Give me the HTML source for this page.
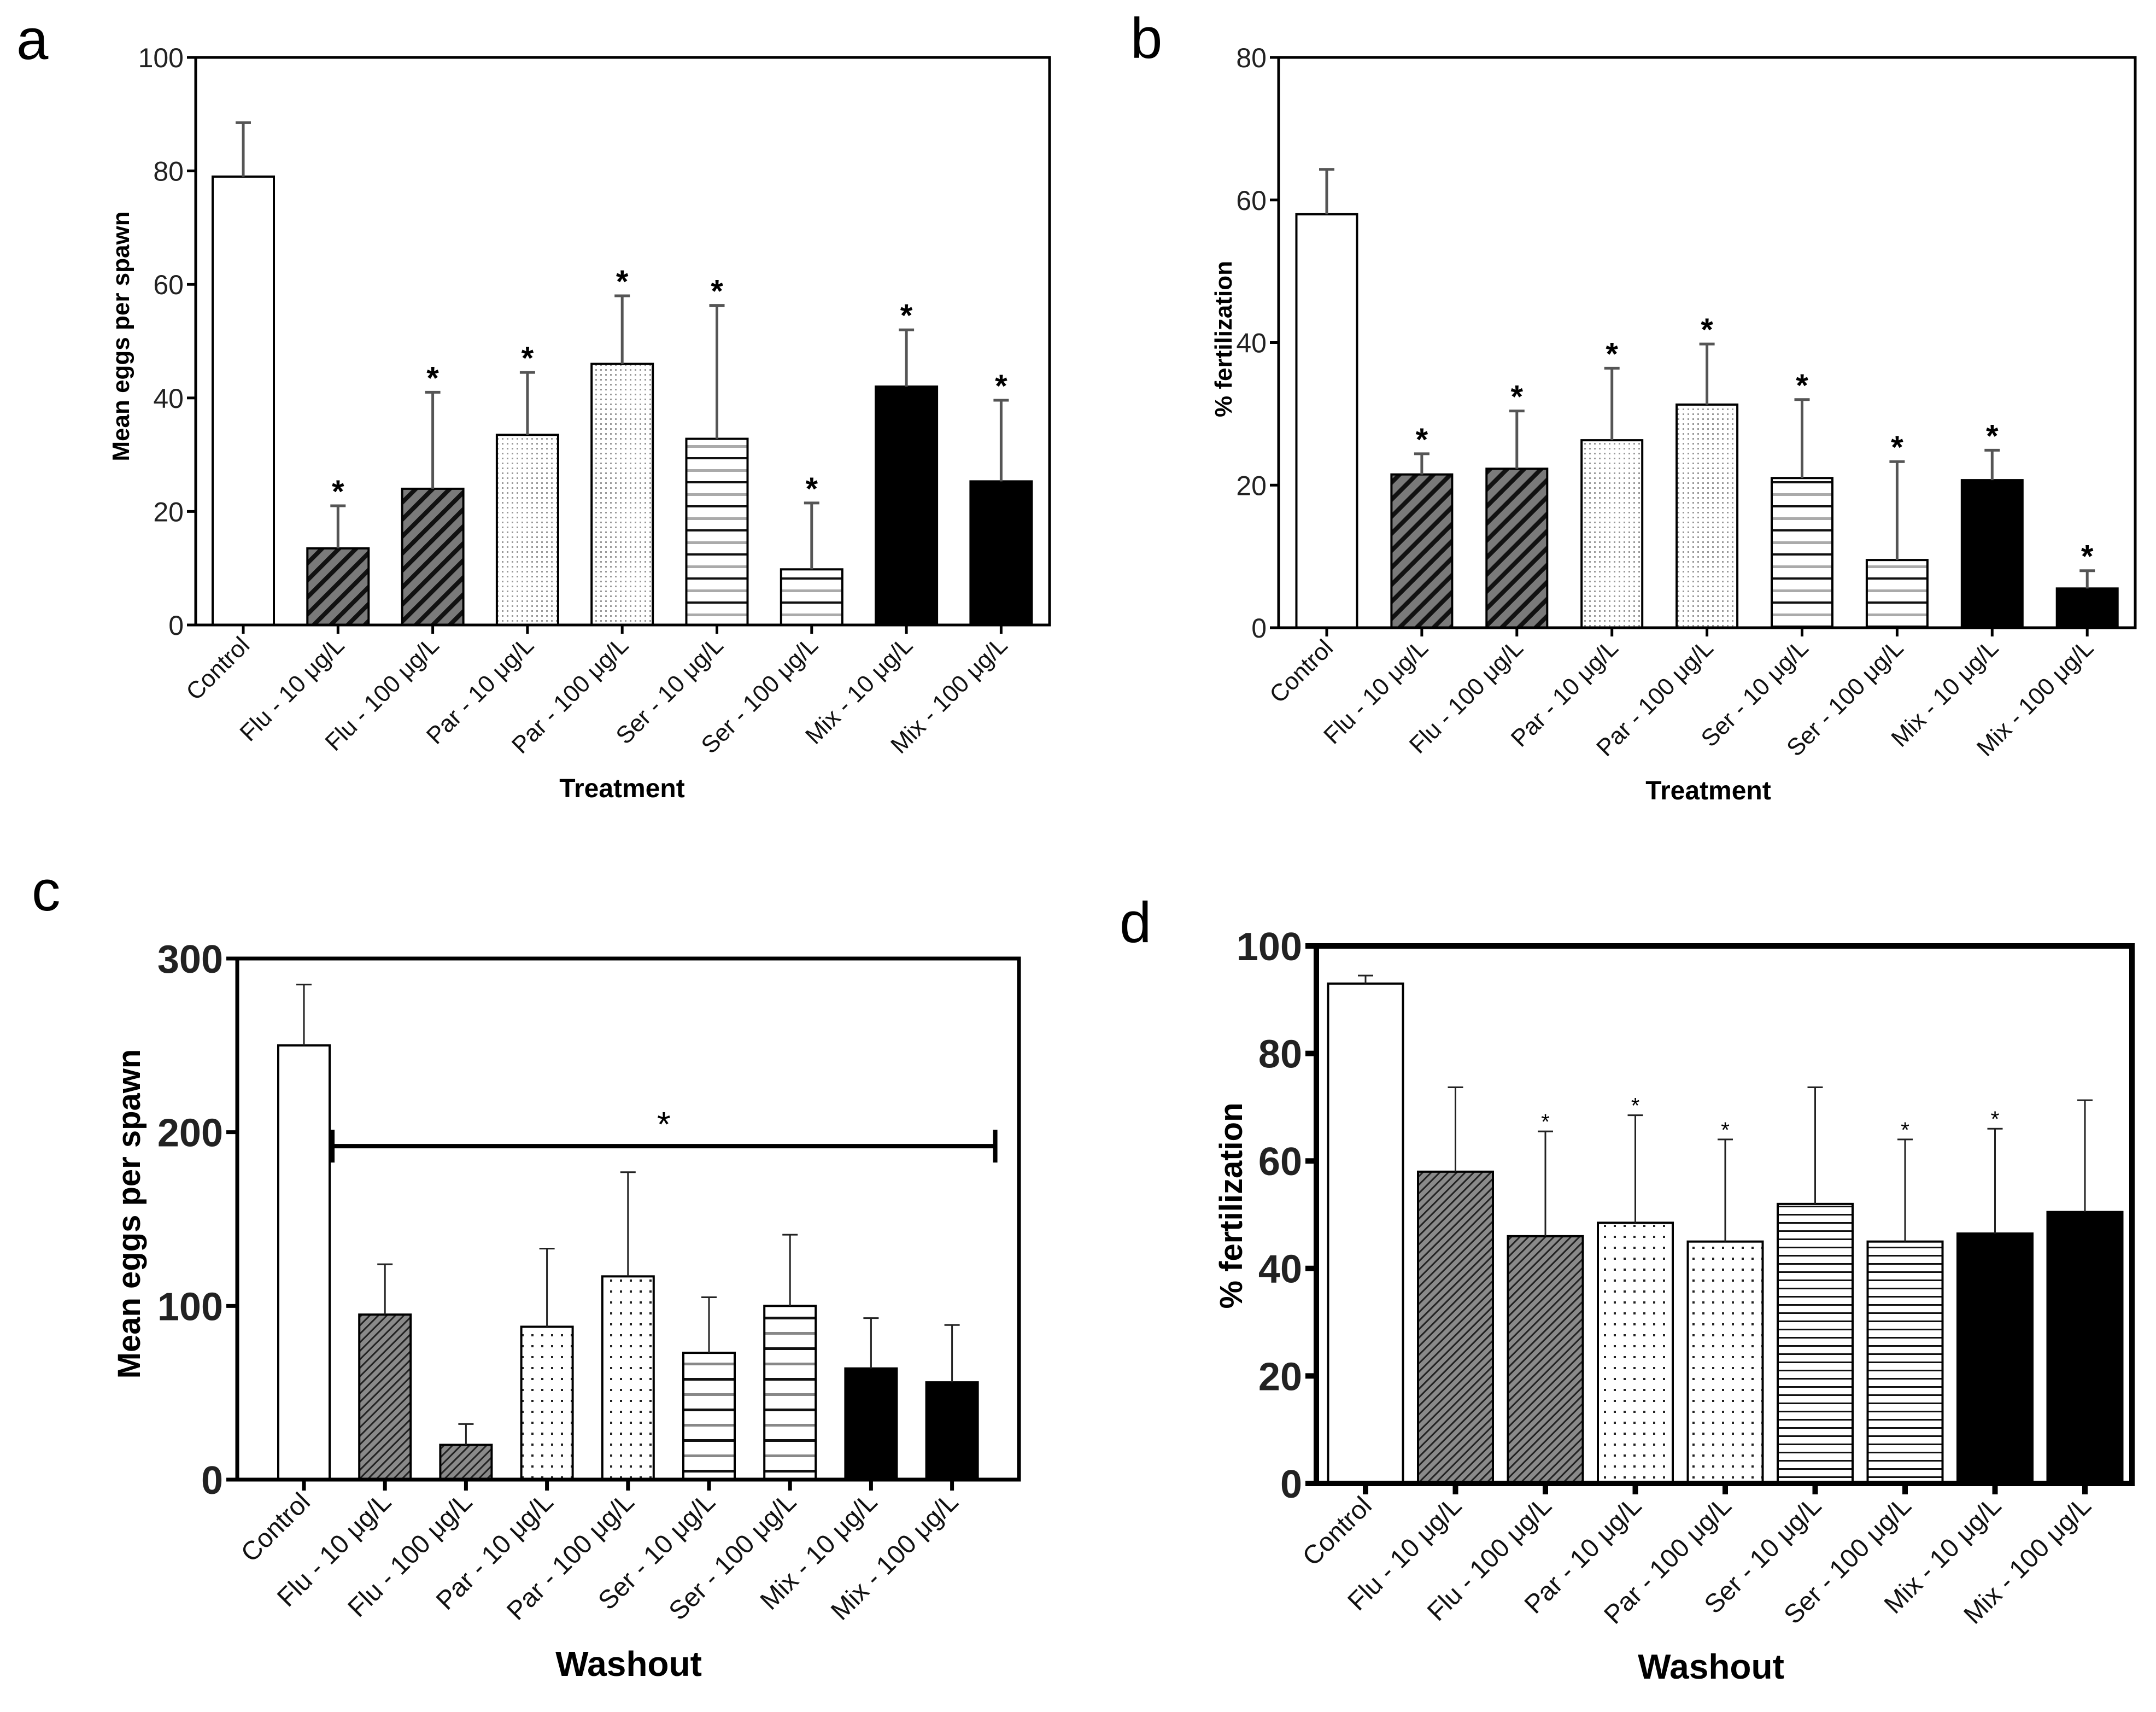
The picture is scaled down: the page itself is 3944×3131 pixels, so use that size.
<!DOCTYPE html>
<html><head><meta charset="utf-8"><style>html,body{margin:0;padding:0;background:#fff;overflow:hidden}svg{display:block}</style></head>
<body>
<svg id="fig" width="3944" height="3131" viewBox="0 0 3944 3131" xmlns="http://www.w3.org/2000/svg">
<defs>
<pattern id="fluA" patternUnits="userSpaceOnUse" width="22" height="22" patternTransform="rotate(45)"><rect width="22" height="22" fill="#7a7a7a"/><rect width="8" height="22" fill="#111"/></pattern>
<pattern id="fluC" patternUnits="userSpaceOnUse" width="11" height="11" patternTransform="rotate(45)"><rect width="11" height="11" fill="#8a8a8a"/><rect width="3" height="11" fill="#222"/></pattern>
<pattern id="parA" patternUnits="userSpaceOnUse" width="9" height="9"><rect width="9" height="9" fill="#fff"/><rect width="3" height="3" fill="#999"/></pattern>
<pattern id="parC" patternUnits="userSpaceOnUse" width="18" height="20"><rect width="18" height="20" fill="#fff"/><rect width="4" height="4" fill="#222"/></pattern>
<pattern id="serA" patternUnits="userSpaceOnUse" width="20" height="44"><rect width="20" height="44" fill="#fff"/><rect y="0" width="20" height="4" fill="#111"/><rect y="22" width="20" height="5" fill="#aaa"/></pattern>
<pattern id="serC" patternUnits="userSpaceOnUse" width="20" height="56"><rect width="20" height="56" fill="#fff"/><rect y="0" width="20" height="5" fill="#111"/><rect y="28" width="20" height="5" fill="#888"/></pattern>
<pattern id="serD" patternUnits="userSpaceOnUse" width="20" height="15"><rect width="20" height="15" fill="#fff"/><rect y="0" width="20" height="3" fill="#111"/></pattern>
</defs>
</svg>
<script>
const categories = ["Control","Flu - 10 μg/L","Flu - 100 μg/L","Par - 10 μg/L","Par - 100 μg/L","Ser - 10 μg/L","Ser - 100 μg/L","Mix - 10 μg/L","Mix - 100 μg/L"];
const aMeans = [79, 13.5, 24, 33.5, 46, 32.8, 9.8, 42, 25.3];
const aUpper = [88.5, 21, 41, 44.5, 58, 56.3, 21.5, 52, 39.6];
const aStars = [0,1,1,1,1,1,1,1,1];
const aTicks = [0,20,40,60,80,100];
const bMeans = [58, 21.5, 22.3, 26.3, 31.3, 21, 9.5, 20.7, 5.5];
const bUpper = [64.3, 24.4, 30.4, 36.4, 39.8, 32, 23.3, 24.9, 8];
const bStars = [0,1,1,1,1,1,1,1,1];
const bTicks = [0,20,40,60,80];
const cMeans = [250, 95, 20, 88, 117, 73, 100, 64, 56];
const cUpper = [285, 124, 32, 133, 177, 105, 141, 93, 89];
const cStars = [0,0,0,0,0,0,0,0,0];
const cTicks = [0,100,200,300];
const cBracketValue = 192;
const dMeans = [93, 58, 46, 48.5, 45, 52, 45, 46.5, 50.5];
const dUpper = [94.5, 73.7, 65.5, 68.5, 64, 73.7, 64, 66, 71.3];
const dStars = [0,0,1,1,1,0,1,1,0];
const dTicks = [0,20,40,60,80,100];

const NS = "http://www.w3.org/2000/svg";
const svg = document.getElementById('fig');
function mk(tag, attrs, parent) {
  const e = document.createElementNS(NS, tag);
  for (const k in attrs) e.setAttribute(k, attrs[k]);
  (parent || svg).appendChild(e);
  return e;
}
function txt(str, attrs, parent) { const t = mk('text', attrs, parent); t.textContent = str; return t; }

function panel(cfg) {
  const g = mk('g', {});
  
  
  const yScale = v => cfg.bottom - (v / cfg.max) * (cfg.bottom - cfg.top);
  const xScale = i => cfg.x0 + i * cfg.step;
  const lab = txt(cfg.id, {x: cfg.letterX, y: cfg.letterY, 'font-family': 'Liberation Sans, sans-serif', 'font-size': 105}, g);
  
  
  cfg.means.forEach((v, i) => {
    const cx = xScale(i), y = yScale(v);
    const r = mk('rect', {x: cx - cfg.bw/2, y: y, width: cfg.bw, height: cfg.bottom - y, fill: cfg.fills[i], stroke: '#000', 'stroke-width': cfg.barStroke}, g);
    
    
    const yu = yScale(cfg.upper[i]);
    const eb = mk('path', {d: `M${cx},${y} V${yu} M${cx-14},${yu} H${cx+14}`, stroke: cfg.errColor, 'stroke-width': cfg.errW, fill: 'none'}, g);
    
    
    if (cfg.stars[i]) {
      const s = txt('*', {x: cx, y: yu - cfg.starGap, 'text-anchor': 'middle', 'font-family': 'Liberation Sans, sans-serif', 'font-size': cfg.starSize, 'font-weight': cfg.starWeight}, g);
      
      
    }
    const tk = mk('line', {x1: cx, x2: cx, y1: cfg.bottom, y2: cfg.bottom + cfg.tickLen, stroke: '#000', 'stroke-width': cfg.axisW}, g);
    
    
    const tl = txt(categories[i], {x: 0, y: 0, 'text-anchor': 'end', transform: `translate(${cx + 14},${cfg.bottom + cfg.tickLen + 24}) rotate(-45)`, 'font-family': 'Liberation Sans, sans-serif', 'font-size': cfg.catSize, fill: '#111'}, g);
    
    
  });
  const fr = mk('rect', {x: cfg.left, y: cfg.top, width: cfg.right - cfg.left, height: cfg.bottom - cfg.top, fill: 'none', stroke: '#000', 'stroke-width': cfg.axisW}, g);
  
  
  cfg.ticks.forEach(t => {
    const y = yScale(t);
    const l = mk('line', {x1: cfg.left - cfg.tickLen, x2: cfg.left, y1: y, y2: y, stroke: '#000', 'stroke-width': cfg.axisW}, g);
    
    
    const tt = txt(String(t), {x: cfg.left - cfg.tickLen - 6, y: y + cfg.tickSize * 0.36, 'text-anchor': 'end', 'font-family': cfg.tickFont, 'font-size': cfg.tickSize, 'font-weight': cfg.tickWeight, fill: '#222'}, g);
    
    
  });
  const yt = txt(cfg.ylabel, {x: 0, y: 0, 'text-anchor': 'middle', transform: `translate(${cfg.ylx},${cfg.yly}) rotate(-90)`, 'font-family': 'Liberation Sans, sans-serif', 'font-size': cfg.ylSize, 'font-weight': 'bold'}, g);
  
  
  const xt = txt(cfg.xlabel, {x: cfg.xlx, y: cfg.xly, 'text-anchor': 'middle', 'font-family': cfg.xlFont, 'font-size': cfg.xlSize, 'font-weight': 'bold'}, g);
  
  
  return {g, yScale, xScale};
}
const fillsAB = ['#fff','url(#fluA)','url(#fluA)','url(#parA)','url(#parA)','url(#serA)','url(#serA)','#000','#000'];
const commonAB = {axisW: 5, barStroke: 4, errColor: '#555', errW: 5, tickLen: 16, catSize: 44, tickSize: 50, tickWeight: 'normal', tickFont: 'Liberation Sans, sans-serif', starSize: 58, starWeight: 'bold', starGap: 6, ylSize: 44, xlSize: 48, xlFont: 'Liberation Sans, sans-serif'};
panel(Object.assign({}, commonAB, {id: 'a', means: aMeans, upper: aUpper, stars: aStars, ticks: aTicks, max: 100,
  left: 358, right: 1920, top: 105, bottom: 1143, x0: 445, step: 173.3, bw: 112, fills: fillsAB,
  letterX: 30, letterY: 108, ylabel: 'Mean eggs per spawn', ylx: 236, yly: 615, xlabel: 'Treatment', xlx: 1138, xly: 1458}));
panel(Object.assign({}, commonAB, {id: 'b', means: bMeans, upper: bUpper, stars: bStars, ticks: bTicks, max: 80,
  left: 2339, right: 3906, top: 105, bottom: 1148, x0: 2427, step: 173.9, bw: 111, fills: fillsAB,
  letterX: 2068, letterY: 106, ylabel: '% fertilization', ylx: 2253, yly: 620, xlabel: 'Treatment', xlx: 3125, xly: 1462}));
const commonCD = {axisW: 7, barStroke: 4, errColor: '#222', errW: 3, tickLen: 20, catSize: 48, tickSize: 72, tickWeight: 'bold', tickFont: 'Liberation Sans Narrow, Liberation Sans, sans-serif', starSize: 40, starWeight: 'normal', starGap: 4, ylSize: 58, xlSize: 64, xlFont: 'Liberation Sans Narrow, Liberation Sans, sans-serif'};
const pc = panel(Object.assign({}, commonCD, {id: 'c', means: cMeans, upper: cUpper, stars: cStars, ticks: cTicks, max: 300,
  left: 434, right: 1864, top: 1753, bottom: 2706, x0: 556, step: 148.2, bw: 94,
  fills: ['#fff','url(#fluC)','url(#fluC)','url(#parC)','url(#parC)','url(#serC)','url(#serC)','#000','#000'],
  letterX: 58, letterY: 1665, ylabel: 'Mean eggs per spawn', ylx: 256, yly: 2220, xlabel: 'Washout', xlx: 1150, xly: 3065}));
{
  const y = pc.yScale(cBracketValue), x1 = pc.xScale(0) + 52, x2 = pc.xScale(8) + 79;
  const br = mk('path', {d: `M${x1},${y-30} V${y+30} M${x1},${y} H${x2} M${x2},${y-30} V${y+30}`, stroke: '#000', 'stroke-width': 8, fill: 'none'}, pc.g);
  
  
  const s = txt('*', {x: (x1 + x2) / 2, y: y - 18, 'text-anchor': 'middle', 'font-family': 'Liberation Sans, sans-serif', 'font-size': 64}, pc.g);
  
  
}
panel(Object.assign({}, commonCD, {id: 'd', means: dMeans, upper: dUpper, stars: dStars, ticks: dTicks, max: 100, axisW: 10,
  left: 2408, right: 3900, top: 1730, bottom: 2713, x0: 2498, step: 164.5, bw: 137,
  fills: ['#fff','url(#fluC)','url(#fluC)','url(#parC)','url(#parC)','url(#serD)','url(#serD)','#000','#000'],
  letterX: 2048, letterY: 1723, ylabel: '% fertilization', ylx: 2272, yly: 2205, xlabel: 'Washout', xlx: 3130, xly: 3070}));
</script>
</body></html>
